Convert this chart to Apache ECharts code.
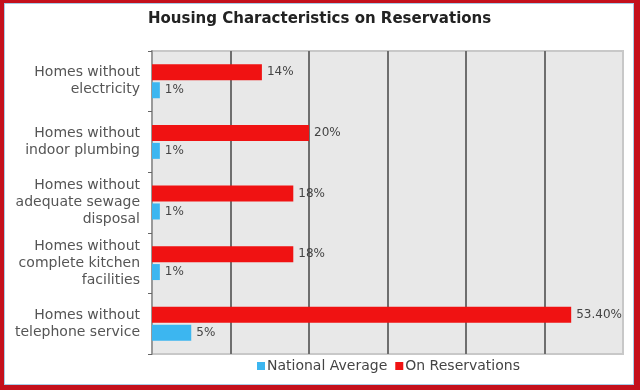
<!DOCTYPE html>
<html>
<head>
<meta charset="utf-8">
<script src="https://cdn.jsdelivr.net/npm/echarts@6/dist/echarts.min.js"></script>
<style>
html,body{margin:0;padding:0;background:#fff;}
#wrap{position:relative;width:640px;height:390px;}
#chart{position:absolute;left:0;top:0;width:640px;height:390px;}
#frame{position:absolute;left:0;top:0;width:640px;height:390px;box-sizing:border-box;
  border-style:solid;border-color:#c4101c;border-width:3px 6px 5px 4px;pointer-events:none;}
#frame2{position:absolute;left:4px;top:3px;right:6px;bottom:5px;border:1px solid #a8cbe6;pointer-events:none;}
</style>
</head>
<body>
<div id="wrap">
<div id="chart"></div>
<div id="frame"></div>
<div id="frame2"></div>
</div>
<script>
const titleText = 'Housing Characteristics on Reservations';
const categories = [
  'Homes without\nelectricity',
  'Homes without\nindoor plumbing',
  'Homes without\nadequate sewage\ndisposal',
  'Homes without\ncomplete kitchen\nfacilities',
  'Homes without\ntelephone service'
];
const reservationValues = [14, 20, 18, 18, 53.4];
const reservationLabels = ['14%', '20%', '18%', '18%', '53.40%'];
const nationalValues = [1, 1, 1, 1, 5];
const nationalLabels = ['1%', '1%', '1%', '1%', '5%'];
const seriesNames = ['National Average', 'On Reservations'];

const chart = echarts.init(document.getElementById('chart'), null, {renderer: 'canvas'});
const labelStyle = {fontFamily: 'DejaVu Sans', fontSize: 12, color: '#444'};
chart.setOption({
  animation: false,
  backgroundColor: '#ffffff',
  title: {
    text: titleText, left: 143, top: 7,
    textStyle: {fontFamily: 'DejaVu Sans', fontSize: 15, fontWeight: 'bold', color: '#222'}
  },
  legend: {
    data: seriesNames, bottom: 12, left: 252,
    itemWidth: 8, itemHeight: 8, itemGap: 8, icon: 'rect',
    textStyle: {fontFamily: 'DejaVu Sans', fontSize: 14, color: '#444', padding: [0, 0, 0, -3]}
  },
  grid: {
    left: 152, right: 17, top: 51, bottom: 36,
    show: true, backgroundColor: '#e8e8e8', borderColor: '#c8c8c8', borderWidth: 2
  },
  xAxis: {
    type: 'value', min: 0, max: 60, interval: 10,
    axisLabel: {show: false}, axisTick: {show: false}, axisLine: {show: false},
    splitLine: {show: true, showMinLine: false, showMaxLine: false, lineStyle: {color: '#6e6e6e', width: 2}}
  },
  yAxis: {
    type: 'category', data: categories, inverse: true,
    axisLine: {show: true, lineStyle: {color: '#999', width: 2}},
    axisTick: {show: true, length: 4, lineStyle: {color: '#666'}},
    axisLabel: {fontFamily: 'DejaVu Sans', fontSize: 14, color: '#555', lineHeight: 17, margin: 12, align: 'right'}
  },
  series: [
    {
      name: seriesNames[1], type: 'bar', data: reservationValues,
      barWidth: 16, barGap: '12%',
      itemStyle: {color: '#f01212'},
      label: {show: true, position: 'right', distance: 5, ...labelStyle,
        formatter: p => reservationLabels[p.dataIndex]}
    },
    {
      name: seriesNames[0], type: 'bar', data: nationalValues,
      barWidth: 16, barGap: '12%',
      itemStyle: {color: '#3cb6f0'},
      label: {show: true, position: 'right', distance: 5, ...labelStyle,
        formatter: p => nationalLabels[p.dataIndex]}
    }
  ]
});
</script>
</body>
</html>
